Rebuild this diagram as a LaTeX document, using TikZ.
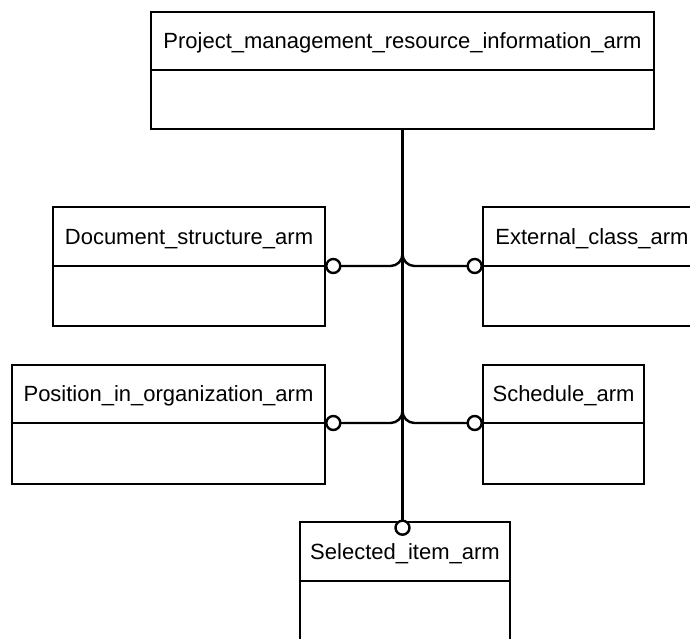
\documentclass[tikz,border=0pt]{standalone}
\usepackage{fontspec}
\setmainfont{Liberation Sans}
\begin{document}
\begin{tikzpicture}[x=1pt,y=-1pt,
  box/.style={draw=black, line width=2.6pt, rectangle, inner sep=0pt, fill=white},
  divider/.style={draw=black, line width=2.6pt},
  lbl/.style={anchor=base, inner sep=0pt, font=\fontsize{22pt}{26pt}\selectfont},
  conn/.style={draw=black, line width=2.4pt, rounded corners=12pt},
  endcirc/.style={circle, draw=black, line width=2.4pt, fill=white, minimum size=14pt, inner sep=0pt}]
\useasboundingbox (0,0) rectangle (690,638);
\clip (0,0) rectangle (690,638);
% boxes
\node[box, minimum width=503pt, minimum height=117pt] (top) at (402.5,70.5) {};
\node[box, minimum width=272pt, minimum height=119pt] (doc) at (189,266.5) {};
\node[box, minimum width=218pt, minimum height=119pt] (ext) at (592,266.5) {};
\node[box, minimum width=313pt, minimum height=119pt] (pos) at (168.5,424.5) {};
\node[box, minimum width=161pt, minimum height=119pt] (sch) at (563.5,424.5) {};
\node[box, minimum width=210pt, minimum height=120pt] (sel) at (405,582) {};
% dividers
\coordinate (topd) at (402.5,70);
\coordinate (docd) at (189,266);
\coordinate (extd) at (592,266);
\coordinate (posd) at (168.5,423);
\coordinate (schd) at (563.5,423);
\coordinate (seld) at (405,581);
\draw[divider] (top.west |- topd) -- (top.east |- topd);
\draw[divider] (doc.west |- docd) -- (doc.east |- docd);
\draw[divider] (ext.west |- extd) -- (ext.east |- extd);
\draw[divider] (pos.west |- posd) -- (pos.east |- posd);
\draw[divider] (sch.west |- schd) -- (sch.east |- schd);
\draw[divider] (sel.west |- seld) -- (sel.east |- seld);
% labels
\node[lbl] (topl) at (402.5,48.9) {Project\_management\_resource\_information\_arm};
\node[lbl] (docl) at (189,244.4) {Document\_structure\_arm};
\node[lbl] (extl) at (592,244.4) {External\_class\_arm};
\node[lbl] (posl) at (168.5,401.9) {Position\_in\_organization\_arm};
\node[lbl] (schl) at (563.5,401.9) {Schedule\_arm};
\node[lbl] (sell) at (405,559.4) {Selected\_item\_arm};
% end circles
\coordinate (docj) at ([xshift=7pt]doc.east |- docd);
\coordinate (extj) at ([xshift=-7pt]ext.west |- extd);
\coordinate (posj) at ([xshift=7pt]pos.east |- posd);
\coordinate (schj) at ([xshift=-7pt]sch.west |- schd);
\coordinate (selj) at ([yshift=-7pt]top.south |- sel.north);
% connectors
\draw[conn] (top.south) |- (docj);
\draw[conn] (top.south) |- (extj);
\draw[conn] (top.south) |- (posj);
\draw[conn] (top.south) |- (schj);
\draw[conn] (top.south) -- (selj);
\node[endcirc] (docc) at (docj) {};
\node[endcirc] (extc) at (extj) {};
\node[endcirc] (posc) at (posj) {};
\node[endcirc] (schc) at (schj) {};
\node[endcirc] (selc) at (selj) {};
\end{tikzpicture}
\end{document}
